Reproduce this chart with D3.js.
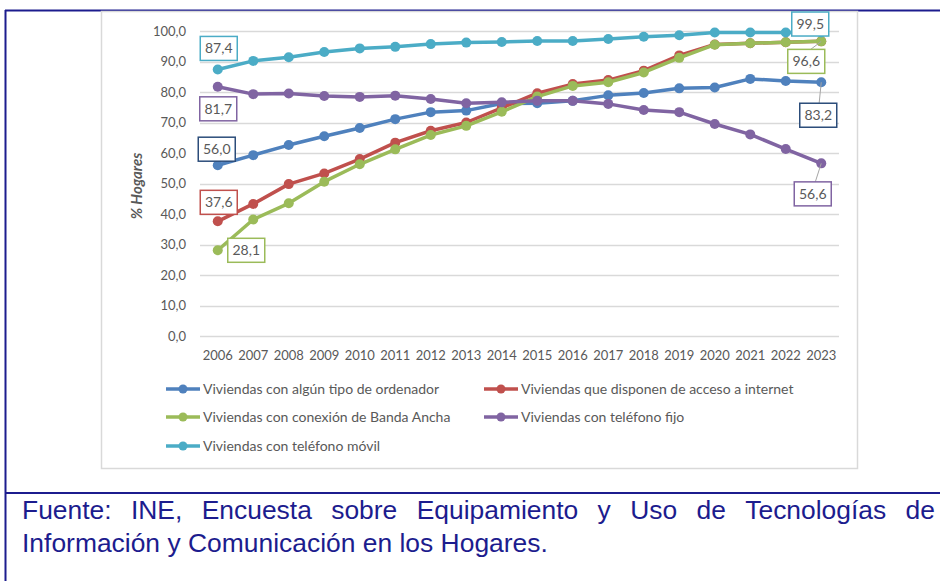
<!DOCTYPE html>
<html>
<head>
<meta charset="utf-8">
<script src="https://cdn.jsdelivr.net/npm/d3@7"></script>
<style>
  body { margin: 0; background: #fff; }
  svg { display: block; }
  text { font-family: Lato, "Open Sans", sans-serif; }
</style>
</head>
<body>
<div id="chart"></div>
<script>
const years = ["2006","2007","2008","2009","2010","2011","2012","2013","2014","2015","2016","2017","2018","2019","2020","2021","2022","2023"]
const ordenador = [56.0, 59.3, 62.6, 65.5, 68.2, 71.1, 73.4, 73.9, 76.2, 76.3, 77.1, 78.9, 79.7, 81.2, 81.5, 84.3, 83.6, 83.2]
const internet  = [37.6, 43.3, 49.8, 53.3, 58.0, 63.4, 67.3, 70.0, 74.8, 79.6, 82.6, 83.9, 87.0, 92.0, 95.6, 96.0, 96.3, 96.6]
const banda     = [28.1, 38.2, 43.5, 50.6, 56.3, 61.2, 65.9, 68.9, 73.5, 78.5, 82.0, 83.2, 86.4, 91.2, 95.5, 96.0, 96.3, 96.6]
const fijo      = [81.7, 79.3, 79.5, 78.7, 78.4, 78.8, 77.7, 76.3, 76.6, 77.1, 77.1, 76.1, 74.1, 73.4, 69.5, 66.1, 61.3, 56.6]
const movil     = [87.4, 90.2, 91.4, 93.1, 94.3, 94.8, 95.7, 96.2, 96.4, 96.7, 96.7, 97.4, 98.1, 98.6, 99.5, 99.5, 99.5, 99.5]
const yTicks = [0, 10, 20, 30, 40, 50, 60, 70, 80, 90, 100]

const series = [
  { name: "Viviendas con algún tipo de ordenador", values: ordenador, color: "#4F81BD", box: "#2C4D7A" },
  { name: "Viviendas que disponen de acceso a internet", values: internet, color: "#C0504D", box: "#C0504D" },
  { name: "Viviendas con conexión de Banda Ancha", values: banda, color: "#9BBB59", box: "#9BBB59" },
  { name: "Viviendas con teléfono fijo", values: fijo, color: "#8064A2", box: "#8064A2" },
  { name: "Viviendas con teléfono móvil", values: movil, color: "#4BACC6", box: "#4BACC6" }
]

// data labels: series index, point index, offset of box centre from point, leader line?
const labels = [
  { s: 4, i: 0, dx: 1, dy: -21, leader: false },
  { s: 3, i: 0, dx: 0.5, dy: 22, leader: false },
  { s: 0, i: 0, dx: -1, dy: -16, leader: false },
  { s: 1, i: 0, dx: 1, dy: -19, leader: false },
  { s: 2, i: 0, dx: 28.5, dy: 0, leader: false },
  { s: 4, i: 17, dx: -11, dy: -8.5, leader: false },
  { s: 2, i: 17, dx: -15, dy: 20, leader: true },
  { s: 0, i: 17, dx: -3, dy: 33, leader: true },
  { s: 3, i: 17, dx: -8.5, dy: 30.5, leader: true }
]

const W = 940, H = 581
const frameColor = "#1C1C8E", grey = "#595959"

const svg = d3.select("#chart").append("svg")
  .attr("width", W).attr("height", H)

// outer frame
svg.append("line").attr("x1", 5.5).attr("x2", 5.5).attr("y1", 10).attr("y2", H)
  .attr("stroke", frameColor).attr("stroke-width", 2)
svg.append("line").attr("x1", 5).attr("x2", W).attr("y1", 10.5).attr("y2", 10.5)
  .attr("stroke", frameColor).attr("stroke-width", 2)
svg.append("line").attr("x1", 5).attr("x2", W).attr("y1", 493).attr("y2", 493)
  .attr("stroke", frameColor).attr("stroke-width", 2)

// chart box
svg.append("rect").attr("x", 101.5).attr("y", 11.5).attr("width", 756).attr("height", 457)
  .attr("fill", "#fff").attr("stroke", "#D9D9D9").attr("stroke-width", 1.5)

const x = d3.scaleBand().domain(years).range([200, 839])
const y = d3.scaleLinear().domain([0, 100]).range([336, 31])
const cx = d => x(d) + x.bandwidth() / 2

// gridlines
svg.append("g")
  .selectAll("line").data(yTicks).enter().append("line")
  .attr("x1", 200).attr("x2", 839)
  .attr("y1", d => Math.round(y(d)) + 0.5).attr("y2", d => Math.round(y(d)) + 0.5)
  .attr("stroke", "#D9D9D9").attr("stroke-width", 1.3)

// y axis labels
svg.append("g")
  .selectAll("text").data(yTicks).enter().append("text")
  .attr("x", 186).attr("y", d => y(d)).attr("dy", "0.35em")
  .attr("text-anchor", "end").attr("fill", grey).style("font-size", "13px")
  .text(d => d3.format(".1f")(d).replace(".", ","))

// x axis labels
svg.append("g")
  .selectAll("text").data(years).enter().append("text")
  .attr("x", d => cx(d)).attr("y", 360)
  .attr("text-anchor", "middle").attr("fill", grey).style("font-size", "13px")
  .text(d => d)

// y title
svg.append("text")
  .attr("transform", "translate(142,186) rotate(-90)")
  .attr("text-anchor", "middle").attr("fill", grey)
  .style("font-size", "15px").style("font-weight", "bold").style("font-style", "italic")
  .text("% Hogares")

// lines + markers
const line = d3.line().x((d, i) => cx(years[i])).y(d => y(d))
series.forEach(s => {
  const g = svg.append("g")
  g.append("path").datum(s.values)
    .attr("d", line).attr("fill", "none")
    .attr("stroke", s.color).attr("stroke-width", 3.5).attr("stroke-linejoin", "round")
  g.selectAll("circle").data(s.values).enter().append("circle")
    .attr("cx", (d, i) => cx(years[i])).attr("cy", d => y(d))
    .attr("r", 5).attr("fill", s.color)
})

// data labels
const bw = 37, bh = 24
labels.forEach(l => {
  const s = series[l.s]
  const px = cx(years[l.i]), py = y(s.values[l.i])
  const bx = px + l.dx, by = py + l.dy
  if (l.leader) {
    svg.append("line")
      .attr("x1", px).attr("y1", py)
      .attr("x2", bx + (px - bx) * 0.3).attr("y2", by - bh / 2)
      .attr("stroke", "#A6A6A6").attr("stroke-width", 1)
  }
  svg.append("rect")
    .attr("x", bx - bw / 2).attr("y", by - bh / 2).attr("width", bw).attr("height", bh)
    .attr("fill", "#fff").attr("stroke", s.box).attr("stroke-width", 1.5)
  svg.append("text")
    .attr("x", bx).attr("y", by).attr("dy", "0.36em")
    .attr("text-anchor", "middle").attr("fill", grey).style("font-size", "14px")
    .text(d3.format(".1f")(s.values[l.i]).replace(".", ","))
})

// legend
const legendPos = [[166, 389], [484, 389], [166, 417], [484, 417], [166, 446]]
series.forEach((s, i) => {
  const [lx, ly] = legendPos[i]
  const g = svg.append("g").attr("transform", `translate(${lx},${ly})`)
  g.append("line").attr("x1", 0).attr("x2", 34).attr("y1", 0).attr("y2", 0)
    .attr("stroke", s.color).attr("stroke-width", 3.5)
  g.append("circle").attr("cx", 17).attr("cy", 0).attr("r", 4.5).attr("fill", s.color)
  g.append("text").attr("x", 37).attr("y", 0).attr("dy", "0.35em")
    .attr("fill", grey).style("font-size", "14px")
    .text(s.name)
})

// source note: line 2 sets the horizontal scale, line 1 is justified
const srcFont = '"Liberation Sans", Arial, sans-serif'
const left = 22, right = 935, line2End = 548
const src = svg.append("g")
const l2 = src.append("text")
  .attr("x", 0).attr("y", 552).attr("fill", frameColor)
  .style("font-family", srcFont).style("font-size", "25px")
  .text("Información y Comunicación en los Hogares.")
const k = (line2End - left) / l2.node().getComputedTextLength()
src.attr("transform", `translate(${left},0) scale(${k},1)`)

const line1 = "Fuente: INE, Encuesta sobre Equipamiento y Uso de Tecnologías de".split(" ")
const words = src.append("g").selectAll("text").data(line1).enter().append("text")
  .attr("y", 519).attr("fill", frameColor)
  .style("font-family", srcFont).style("font-size", "25px")
  .text(d => d)
const widths = []
words.each(function() { widths.push(this.getComputedTextLength()) })
const gap = ((right - left) / k - d3.sum(widths)) / (line1.length - 1)
let pos = 0
words.attr("x", (d, i) => { const p = pos; pos += widths[i] + gap; return p })
</script>
</body>
</html>
